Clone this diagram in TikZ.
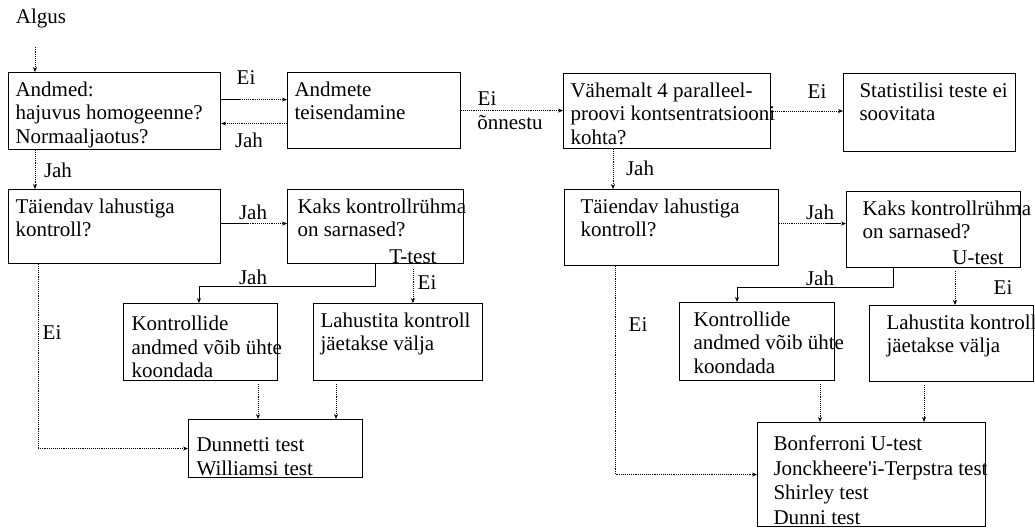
\documentclass[tikz,border=0pt]{standalone}
\usepackage{fontspec}
\setmainfont{Liberation Serif}
\usetikzlibrary{arrows.meta,positioning}
\newcommand{\flowtext}[3]{\parbox[t][#2pt][t]{#1pt}{\raggedright\hyphenpenalty=10000\exhyphenpenalty=10000\strut#3}}
\tikzset{
  box/.style={draw, line width=1.1pt, anchor=north west, inner xsep=7pt, inner ysep=7pt},
  flow/.style={densely dotted, line width=0.9pt, -{Stealth[length=5pt,width=4pt]}},
  solidflow/.style={line width=0.9pt, -{Stealth[length=5pt,width=4pt]}},
  solidpart/.style={line width=0.9pt},
  lbl/.style={inner sep=1pt}
}

\begin{document}
\begin{tikzpicture}[x=1pt,y=-1pt,every node/.style={font=\fontsize{21}{23.5}\selectfont}]
  \useasboundingbox (0,0) rectangle (1035,528);
  % Left branch boxes
  \node[box] (andmed) at (8,72) {\flowtext{198}{63}{Andmed:\\hajuvus~homogeenne?\\Normaaljaotus?}};
  \node[box] (teisend) at (287,72) {\flowtext{159}{62}{Andmete\\teisendamine}};
  \node[box] (taiendL) at (8,189) {\flowtext{198}{60}{Täiendav~lahustiga\\kontroll?}};
  \node[box, inner xsep=10pt] (kaksL) at (287,189) {\flowtext{156}{60}{\mbox{Kaks kontrollrühma}\\on~sarnased?}};
  \node[box, inner xsep=8pt] (kontrL) at (123,303) {\flowtext{138}{63}{\rule{0pt}{20pt}Kontrollide\\\mbox{andmed võib ühte}\\koondada}};
  \node[box] (lahustL) at (313,303) {\flowtext{155}{63}{\mbox{Lahustita kontroll}\\jäetakse~välja}};
  \node[box, inner xsep=8pt] (dunnett) at (188,419) {\flowtext{158}{44}{\rule{0pt}{25pt}Dunnetti~test\\Williamsi~test}};
  % Right branch boxes
  \node[box] (vahemalt) at (563,73) {\flowtext{193}{61}{\mbox{Vähemalt 4 paralleel-}\\\mbox{proovi kontsentratsiooni}\\kohta?}};
  \node[box, inner xsep=16pt] (statist) at (843,73) {\flowtext{140}{64}{\mbox{Statistilisi teste ei}\\soovitata}};
  \node[box, inner xsep=16pt] (taiendR) at (564,189) {\flowtext{182}{62}{Täiendav~lahustiga\\kontroll?}};
  \node[box, inner xsep=16pt] (kaksR) at (846,191) {\flowtext{142}{62}{\mbox{Kaks kontrollrühma}\\on~sarnased?}};
  \node[box, inner xsep=14pt] (kontrR) at (679,302) {\flowtext{127}{64}{Kontrollide\\\mbox{andmed võib ühte}\\koondada}};
  \node[box, inner xsep=17pt] (lahustR) at (869,305) {\flowtext{130}{62}{\mbox{Lahustita kontroll}\\jäetakse~välja}};
  \node[box, inner xsep=16pt] (bonf) at (757,422) {\flowtext{196}{90}{\rule{0pt}{21pt}Bonferroni~U-test\\[1pt]\mbox{Jonckheere\textquotesingle i-Terpstra test}\\[1pt]Shirley~test\\[1pt]Dunni~test}};
  % Labels
  \node[lbl] (algus) at (41,18) {Algus};
  \node[lbl] (ei1) at (246,78) {Ei};
  \node[lbl] (jah1) at (249,140) {Jah};
  \node[lbl] (ei2) at (487,99) {Ei};
  \node[lbl] (onnestu) at (510,123) {õnnestu};
  \node[lbl] (ei3) at (817,92) {Ei};
  \node[lbl] (jah2) at (58,170) {Jah};
  \node[lbl] (jah3) at (640,168) {Jah};
  \node[lbl] (jah4) at (253,212) {Jah};
  \node[lbl] (ttest) at (413,257) {T-test};
  \node[lbl] (jah5) at (253,277) {Jah};
  \node[lbl] (ei4) at (427,283) {Ei};
  \node[lbl] (ei5) at (52,333) {Ei};
  \node[lbl] (jah6) at (820,212) {Jah};
  \node[lbl] (utest) at (978,258) {U-test};
  \node[lbl] (jah7) at (820,278) {Jah};
  \node[lbl] (ei6) at (1003,288) {Ei};
  \node[lbl] (ei7) at (638,325) {Ei};
  % Top row connectors
  \draw[flow] ([xshift=-6pt,yshift=-18pt]algus.south) -- ([xshift=-6pt]algus.south |- andmed.north);
  \draw[flow] ([yshift=11.5pt]andmed.east) -- ([yshift=11.5pt]andmed.east -| teisend.west);
  \draw[solidpart] ([yshift=11.5pt]andmed.east) -- ++(20,0);
  \draw[flow] ([yshift=-13pt]teisend.west) -- ([yshift=-13pt]teisend.west -| andmed.east);
  \draw[flow] (teisend.east) -- (teisend.east -| vahemalt.west);
  \draw[flow] (vahemalt.east) -- (vahemalt.east -| statist.west);
  \draw[flow] ([xshift=27pt]andmed.south west) -- ([xshift=27pt]andmed.south west |- taiendL.north);
  \draw[flow] ([xshift=50pt]vahemalt.south west) -- ([xshift=50pt]vahemalt.south west |- taiendR.north);
  % Left branch connectors
  \draw[flow] ([yshift=3pt]taiendL.east) -- ([yshift=3pt]taiendL.east -| kaksL.west);
  \draw[solidpart] ([yshift=3pt]taiendL.east) -- ++(28,0);
  \draw[solidflow] ([xshift=88pt]kaksL.south west) -- ++(0,22) -| ([xshift=76pt]kontrL.north west);
  \draw[flow] ([xshift=126pt,yshift=-5pt]kaksL.south west) -- ([xshift=126pt]kaksL.south west |- lahustL.north);
  \draw[flow] ([xshift=30pt]taiendL.south west) |- (dunnett.west);
  \draw[flow] ([xshift=135pt,yshift=-3pt]kontrL.south west) -- ([xshift=135pt]kontrL.south west |- dunnett.north);
  \draw[flow] ([xshift=23pt,yshift=-3pt]lahustL.south west) -- ([xshift=23pt]lahustL.south west |- dunnett.north);
  % Right branch connectors
  \draw[flow] ([yshift=4pt]taiendR.east) -- ([yshift=4pt]taiendR.east -| kaksR.west);
  \draw[solidpart] ([yshift=4pt,xshift=-20pt]taiendR.east -| kaksR.west) -- ++(15,0);
  \draw[solidflow] ([xshift=47pt]kaksR.south west) -- ++(0,19) -| ([xshift=58pt]kontrR.north west);
  \draw[flow] ([xshift=109pt,yshift=-3pt]kaksR.south west) -- ([xshift=109pt]kaksR.south west |- lahustR.north);
  \draw[flow] ([xshift=51pt]taiendR.south west) |- (bonf.west);
  \draw[flow] ([xshift=141pt,yshift=-3pt]kontrR.south west) -- ([xshift=141pt]kontrR.south west |- bonf.north);
  \draw[flow] ([xshift=55pt,yshift=-3pt]lahustR.south west) -- ([xshift=55pt]lahustR.south west |- bonf.north);
\end{tikzpicture}
\end{document}
